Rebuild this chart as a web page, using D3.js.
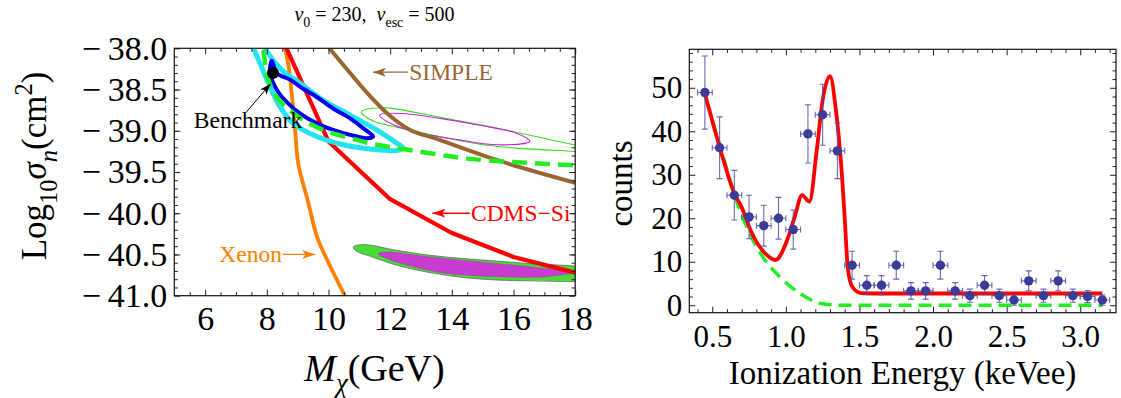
<!DOCTYPE html>
<html>
<head>
<meta charset="utf-8">
<script src="https://cdn.jsdelivr.net/npm/d3@7"></script>
<style>
  body { margin: 0; background: #fff; }
</style>
</head>
<body>
<div id="chart"></div>
<script>
// ---------- left panel: Log10 sigma_n vs M_chi ----------
const massTicks = [6, 8, 10, 12, 14, 16, 18];
const sigmaTicks = [-41.0, -40.5, -40.0, -39.5, -39.0, -38.5, -38.0];

const xenon = [[8.59, -38.0], [8.72, -38.25], [8.82, -38.6], [8.92, -39.0], [9.02, -39.4],
  [9.33, -39.85], [9.64, -40.3], [10.0, -40.6], [10.6, -41.05]];
const cdmsSi = [[8.64, -38.0], [10.0, -39.13], [12.0, -39.83], [14.0, -40.24], [16.0, -40.53], [18.0, -40.72]];
const simple = [[10.03, -38.0], [10.7, -38.3], [11.35, -38.58], [12.0, -38.82], [12.65, -38.99],
  [13.6, -39.11], [15.5, -39.36], [18.0, -39.63]];
const greenLimit = [[7.89, -38.02], [8.05, -38.38], [8.32, -38.59], [8.75, -38.75], [9.18, -38.87],
  [9.83, -38.99], [10.7, -39.09], [11.56, -39.17], [12.42, -39.22], [13.94, -39.31], [14.86, -39.35],
  [16.5, -39.39], [18.0, -39.42]];
const cyanRegion = [[7.75, -37.85], [7.94, -38.0], [8.48, -38.26], [9.07, -38.42], [9.83, -38.63],
  [10.7, -38.81], [11.56, -38.99], [12.21, -39.15], [12.42, -39.21], [12.21, -39.24], [11.34, -39.22],
  [10.48, -39.17], [9.62, -39.07], [8.86, -38.91], [8.43, -38.71], [8.05, -38.42], [7.78, -38.18],
  [7.56, -37.98], [7.55, -37.88]];
const blueRegion = [[8.16, -38.15], [8.32, -38.3], [8.75, -38.38], [9.18, -38.49], [9.62, -38.59],
  [10.15, -38.73], [10.7, -38.85], [11.13, -38.97], [11.45, -39.07], [11.24, -39.09], [10.7, -39.05],
  [10.15, -38.99], [9.62, -38.91], [9.07, -38.79], [8.64, -38.65], [8.37, -38.53], [8.21, -38.42], [8.1, -38.3]];
const greenUpper = [[11.07, -38.77], [11.75, -38.72], [12.99, -38.79], [14.24, -38.88], [15.48, -38.97],
  [16.72, -39.07], [17.96, -39.17], [18.5, -39.21], [19.0, -39.24], [18.5, -39.265], [17.96, -39.25],
  [16.1, -39.21], [14.86, -39.16], [13.61, -39.07], [12.37, -38.97], [11.38, -38.87]];
const magentaUpper = [[11.66, -38.81], [12.37, -38.79], [13.61, -38.85], [14.86, -38.93], [16.1, -39.03],
  [16.53, -39.13], [15.48, -39.17], [14.24, -39.11], [12.99, -39.03], [12.12, -38.93]];
const greenLower = [[10.8, -40.41], [11.13, -40.38], [12.21, -40.45], [13.29, -40.51], [14.37, -40.55],
  [15.45, -40.58], [16.53, -40.61], [17.99, -40.64], [18.6, -40.66], [18.9, -40.74], [18.6, -40.83],
  [17.99, -40.83], [16.53, -40.82], [15.45, -40.81], [14.37, -40.78], [13.29, -40.72], [12.21, -40.63],
  [11.34, -40.52], [10.91, -40.46]];
const magentaLower = [[11.61, -40.49], [11.88, -40.47], [13.29, -40.53], [14.91, -40.59], [16.53, -40.65],
  [17.88, -40.72], [17.07, -40.77], [15.45, -40.77], [13.83, -40.73], [12.75, -40.65], [11.88, -40.55]];
const benchmark = [8.2, -38.3];

// ---------- right panel: counts vs ionization energy ----------
const energyTicks = [0.5, 1.0, 1.5, 2.0, 2.5, 3.0];
const countTicks = [0, 10, 20, 30, 40, 50];
const energy = [0.45, 0.55, 0.65, 0.75, 0.85, 0.95, 1.05, 1.15, 1.25, 1.35, 1.45, 1.55, 1.65, 1.75,
  1.85, 1.95, 2.05, 2.15, 2.25, 2.35, 2.45, 2.55, 2.65, 2.75, 2.85, 2.95, 3.05, 3.15];
const counts = [48.9, 36.2, 25.3, 20.3, 18.3, 20.0, 17.4, 39.4, 43.8, 35.5, 9.2, 4.6, 4.6, 9.2,
  3.3, 3.3, 9.2, 3.3, 2.2, 4.6, 2.2, 1.2, 5.6, 2.2, 5.6, 2.2, 2.0, 1.2];
const countErr = [8.4, 7.1, 5.7, 5.0, 4.7, 4.8, 4.5, 6.7, 7.0, 6.4, 3.2, 2.2, 2.2, 3.2,
  1.9, 1.9, 3.2, 1.9, 1.5, 2.2, 1.5, 1.2, 2.3, 1.5, 2.3, 1.5, 1.4, 1.2];
const binHalfWidth = 0.05;
const fitE = [0.45, 0.55, 0.65, 0.70, 0.77, 0.86, 0.93, 1.00, 1.06, 1.11, 1.16, 1.21, 1.25, 1.30,
  1.34, 1.38, 1.40, 1.42, 1.45, 1.51, 1.60, 2.00, 2.50, 3.15];
const fitCounts = [48.7, 36.4, 25.7, 22.5, 16.5, 11.9, 10.4, 14.2, 20.3, 25.3, 23.8, 35.7, 47.2, 52.7,
  44.9, 30.4, 20.0, 8.9, 4.3, 2.8, 2.7, 2.7, 2.7, 2.7];
const bgE = [0.46, 0.55, 0.65, 0.75, 0.84, 0.96, 1.10, 1.24, 1.38, 3.15];
const bgCounts = [47, 37, 25.5, 16.8, 11.3, 6.5, 2.6, 0.4, 0, 0];

const W = 1121, H = 398;
const SERIF = "'Liberation Serif', 'Times New Roman', serif";
const svg = d3.select("#chart").append("svg")
  .attr("width", W).attr("height", H)
  .attr("viewBox", `0 0 ${W} ${H}`)
  .style("font-family", SERIF);

const xL = d3.scaleLinear().domain([5, 18]).range([174.3, 575.2]);
const yL = d3.scaleLinear().domain([-41, -38]).range([295.7, 48.3]);
const xR = d3.scaleLinear().domain([0.344, 3.243]).range([689.3, 1116]);
const yR = d3.scaleLinear().domain([-1.72, 58.85]).range([312.7, 49.3]);

const defs = svg.append("defs");
const addClip = (id, x, y) => {
  defs.append("clipPath").attr("id", id).append("rect")
    .attr("x", x.range()[0]).attr("y", y.range()[1])
    .attr("width", x.range()[1] - x.range()[0]).attr("height", y.range()[0] - y.range()[1]);
};
addClip("clipL", xL, yL);
addClip("clipR", xR, yR);

const addMarker = (id, color, len, wid) => {
  defs.append("marker").attr("id", id)
    .attr("markerUnits", "userSpaceOnUse")
    .attr("viewBox", `0 0 ${len} ${wid}`)
    .attr("refX", len).attr("refY", wid / 2)
    .attr("markerWidth", len).attr("markerHeight", wid)
    .attr("orient", "auto")
    .append("path")
    .attr("d", `M0,0 L${len},${wid / 2} L0,${wid} L${len * 0.25},${wid / 2} Z`)
    .attr("fill", color);
};
addMarker("arrBlack", "#000", 11, 8);
addMarker("arrBrown", "#996633", 13, 9);
addMarker("arrRed", "#ff0000", 13, 9);
addMarker("arrOrange", "#ff8000", 13, 9);

// rich text with italics / sub / superscripts
const richText = (sel, parts, fs) => {
  let shift = 0;
  parts.forEach(p => {
    const target = p.sub ? fs * 0.3 : p.sup ? -fs * 0.4 : 0;
    sel.append("tspan")
      .attr("dy", target - shift)
      .attr("font-size", p.sub || p.sup ? fs * 0.7 : fs)
      .attr("font-style", p.it ? "italic" : null)
      .text(p.t);
    shift = target;
  });
};

const drawFrame = (x, y, xMajor, xMinor, yMajor, yMinor, xFmt, yFmt, fs, xPad) => {
  const [x0, x1] = x.range(), [y1, y0] = y.range();
  const styleAxis = g => {
    g.select(".domain").remove();
    g.attr("font-size", fs).attr("font-family", null);
    g.selectAll("line").attr("stroke", "#222");
  };
  // bottom & top
  svg.append("g").attr("transform", `translate(0,${y1})`)
    .call(d3.axisBottom(x).tickValues(xMajor).tickSizeInner(-6).tickSizeOuter(0).tickPadding(xPad).tickFormat(xFmt))
    .call(styleAxis);
  svg.append("g").attr("transform", `translate(0,${y1})`)
    .call(d3.axisBottom(x).tickValues(xMinor).tickSizeInner(-3.5).tickSizeOuter(0).tickFormat(""))
    .call(styleAxis);
  svg.append("g").attr("transform", `translate(0,${y0})`)
    .call(d3.axisTop(x).tickValues(xMajor).tickSizeInner(-6).tickSizeOuter(0).tickFormat(""))
    .call(styleAxis);
  svg.append("g").attr("transform", `translate(0,${y0})`)
    .call(d3.axisTop(x).tickValues(xMinor).tickSizeInner(-3.5).tickSizeOuter(0).tickFormat(""))
    .call(styleAxis);
  // left & right
  svg.append("g").attr("transform", `translate(${x0},0)`)
    .call(d3.axisLeft(y).tickValues(yMajor).tickSizeInner(-6).tickSizeOuter(0).tickPadding(7).tickFormat(yFmt))
    .call(styleAxis);
  svg.append("g").attr("transform", `translate(${x0},0)`)
    .call(d3.axisLeft(y).tickValues(yMinor).tickSizeInner(-3.5).tickSizeOuter(0).tickFormat(""))
    .call(styleAxis);
  svg.append("g").attr("transform", `translate(${x1},0)`)
    .call(d3.axisRight(y).tickValues(yMajor).tickSizeInner(-6).tickSizeOuter(0).tickFormat(""))
    .call(styleAxis);
  svg.append("g").attr("transform", `translate(${x1},0)`)
    .call(d3.axisRight(y).tickValues(yMinor).tickSizeInner(-3.5).tickSizeOuter(0).tickFormat(""))
    .call(styleAxis);
  svg.append("rect")
    .attr("x", x0).attr("y", y0).attr("width", x1 - x0).attr("height", y1 - y0)
    .attr("fill", "none").attr("stroke", "#111").attr("stroke-width", 1.2);
};

// ---------- left panel ----------
const plotLeft = () => {
  const g = svg.append("g").attr("clip-path", "url(#clipL)");
  const line = d3.line().x(d => xL(d[0])).y(d => yL(d[1]));
  const smooth = d3.line().x(d => xL(d[0])).y(d => yL(d[1])).curve(d3.curveCatmullRom);
  const closed = d3.line().x(d => xL(d[0])).y(d => yL(d[1])).curve(d3.curveCatmullRomClosed);

  g.append("path").attr("d", closed(greenLower))
    .attr("fill", "#48dc36").attr("stroke", "#6a6a6a").attr("stroke-width", 0.8);
  g.append("path").attr("d", closed(magentaLower))
    .attr("fill", "#c83ccf").attr("stroke", "#9a4aa0").attr("stroke-width", 0.5);
  g.append("path").attr("d", closed(greenUpper))
    .attr("fill", "none").attr("stroke", "#33dd22").attr("stroke-width", 1.1);
  g.append("path").attr("d", closed(magentaUpper))
    .attr("fill", "none").attr("stroke", "#cc22dd").attr("stroke-width", 1.1);

  g.append("path").attr("d", smooth(xenon))
    .attr("fill", "none").attr("stroke", "#ff8000").attr("stroke-width", 3.8);
  g.append("path").attr("d", line(cdmsSi))
    .attr("fill", "none").attr("stroke", "#ff0000").attr("stroke-width", 4.2).attr("stroke-linejoin", "round");
  g.append("path").attr("d", smooth(simple))
    .attr("fill", "none").attr("stroke", "#996633").attr("stroke-width", 4);

  g.append("path").attr("d", closed(cyanRegion))
    .attr("fill", "none").attr("stroke", "#22e4f0").attr("stroke-width", 5);
  g.append("path").attr("d", closed(blueRegion))
    .attr("fill", "none").attr("stroke", "#0000f0").attr("stroke-width", 4);
  g.append("path").attr("d", smooth(greenLimit))
    .attr("fill", "none").attr("stroke", "#22ee22").attr("stroke-width", 4.5)
    .attr("stroke-dasharray", "15,8");

  g.append("circle")
    .attr("cx", xL(benchmark[0])).attr("cy", yL(benchmark[1])).attr("r", 6)
    .attr("fill", "#000");

  // annotations
  const fsNote = 23.5;
  svg.append("line")
    .attr("x1", xL(7.32)).attr("y1", yL(-38.78)).attr("x2", xL(8.12)).attr("y2", yL(-38.43))
    .attr("stroke", "#000").attr("stroke-width", 1).attr("marker-end", "url(#arrBlack)");
  svg.append("text").attr("x", xL(7.39)).attr("y", yL(-38.97)).attr("text-anchor", "middle")
    .attr("font-size", fsNote).text("Benchmark");

  svg.append("line")
    .attr("x1", xL(12.58)).attr("y1", yL(-38.29)).attr("x2", xL(11.44)).attr("y2", yL(-38.29))
    .attr("stroke", "#996633").attr("stroke-width", 1.3).attr("marker-end", "url(#arrBrown)");
  svg.append("text").attr("x", xL(12.62)).attr("y", yL(-38.38))
    .attr("font-size", fsNote).attr("fill", "#996633").text("SIMPLE");

  svg.append("line")
    .attr("x1", xL(14.58)).attr("y1", yL(-40.0)).attr("x2", xL(13.37)).attr("y2", yL(-40.0))
    .attr("stroke", "#ff0000").attr("stroke-width", 1.3).attr("marker-end", "url(#arrRed)");
  svg.append("text").attr("x", xL(14.62)).attr("y", yL(-40.09))
    .attr("font-size", fsNote).attr("fill", "#ff0000").text("CDMS\u2212Si");

  svg.append("line")
    .attr("x1", xL(8.52)).attr("y1", yL(-40.5)).attr("x2", xL(9.57)).attr("y2", yL(-40.5))
    .attr("stroke", "#ff8000").attr("stroke-width", 1.3).attr("marker-end", "url(#arrOrange)");
  svg.append("text").attr("x", xL(6.46)).attr("y", yL(-40.59))
    .attr("font-size", fsNote).attr("fill", "#ff8000").text("Xenon");

  const sigmaFmt = d => (d < 0 ? "\u2212\u2009" : "") + d3.format(".1f")(Math.abs(d));
  drawFrame(xL, yL, massTicks, d3.range(5.5, 18, 0.5).filter(v => v % 2 !== 0),
    sigmaTicks, d3.range(-40.9, -38.0, 0.1), d3.format("d"), sigmaFmt, 34, 10);

  // title and axis labels
  const title = svg.append("text").attr("x", 374.5).attr("y", 21).attr("text-anchor", "middle")
    .attr("font-size", 20).style("white-space", "pre");
  richText(title, [{t: "v", it: true}, {t: "0", sub: true}, {t: " = 230,  "},
    {t: "v", it: true}, {t: "esc", sub: true}, {t: " = 500"}], 20);

  const xlab = svg.append("text").attr("x", 374.5).attr("y", 381).attr("text-anchor", "middle")
    .attr("font-size", 38);
  richText(xlab, [{t: "M", it: true}, {t: "\u03c7", it: true, sub: true}, {t: "(GeV)"}], 38);

  const ylab = svg.append("text").attr("transform", "translate(46,166) rotate(-90)")
    .attr("text-anchor", "middle").attr("font-size", 35);
  richText(ylab, [{t: "Log"}, {t: "10", sub: true}, {t: "\u03c3", it: true}, {t: "n", it: true, sub: true},
    {t: "(cm"}, {t: "2", sup: true}, {t: ")"}], 35);
};

// ---------- right panel ----------
const plotRight = () => {
  const g = svg.append("g").attr("clip-path", "url(#clipR)");
  g.append("path")
    .datum(d3.zip(bgE, bgCounts))
    .attr("fill", "none").attr("stroke", "#22ee22").attr("stroke-width", 3.5)
    .attr("stroke-dasharray", "13,7")
    .attr("d", d3.line().x(d => xR(d[0])).y(d => yR(d[1])).curve(d3.curveMonotoneX));
  g.append("path")
    .datum(d3.zip(fitE, fitCounts))
    .attr("fill", "none").attr("stroke", "#ff0000").attr("stroke-width", 3.8)
    .attr("d", d3.line().x(d => xR(d[0])).y(d => yR(d[1])).curve(d3.curveMonotoneX));

  const pts = d3.zip(energy, counts, countErr);
  const eb = g.append("g").attr("stroke", "#5050a8").attr("stroke-width", 1.1).attr("stroke-opacity", 0.85);
  eb.selectAll(".v").data(pts).join("line")
    .attr("x1", d => xR(d[0])).attr("x2", d => xR(d[0]))
    .attr("y1", d => yR(d[1] - d[2])).attr("y2", d => yR(d[1] + d[2]));
  eb.selectAll(".vc").data(pts.flatMap(d => [[d[0], d[1] - d[2]], [d[0], d[1] + d[2]]])).join("line")
    .attr("x1", d => xR(d[0]) - 3).attr("x2", d => xR(d[0]) + 3)
    .attr("y1", d => yR(d[1])).attr("y2", d => yR(d[1]));
  eb.selectAll(".h").data(pts).join("line")
    .attr("x1", d => xR(d[0] - binHalfWidth)).attr("x2", d => xR(d[0] + binHalfWidth))
    .attr("y1", d => yR(d[1])).attr("y2", d => yR(d[1]));
  eb.selectAll(".hc").data(pts.flatMap(d => [[d[0] - binHalfWidth, d[1]], [d[0] + binHalfWidth, d[1]]])).join("line")
    .attr("x1", d => xR(d[0])).attr("x2", d => xR(d[0]))
    .attr("y1", d => yR(d[1]) - 3).attr("y2", d => yR(d[1]) + 3);

  g.append("g").selectAll("circle").data(pts).join("circle")
    .attr("cx", d => xR(d[0])).attr("cy", d => yR(d[1])).attr("r", 4.7)
    .attr("fill", "#3b3b98");

  drawFrame(xR, yR, energyTicks, d3.range(0.4, 3.25, 0.1).filter(v => Math.abs(v * 2 - Math.round(v * 2)) > 0.01),
    countTicks, d3.range(2, 59, 2).filter(v => v % 10 !== 0), d3.format(".1f"), d3.format("d"), 31, 12);

  svg.append("text").attr("x", 902.5).attr("y", 384).attr("text-anchor", "middle")
    .attr("font-size", 33).text("Ionization Energy (keVee)");
  svg.append("text").attr("transform", "translate(632,183.5) rotate(-90)")
    .attr("text-anchor", "middle").attr("font-size", 33).text("counts");
};

plotLeft();
plotRight();

// every text in the serif face
svg.selectAll("text").style("font-family", SERIF);
</script>
</body>
</html>
